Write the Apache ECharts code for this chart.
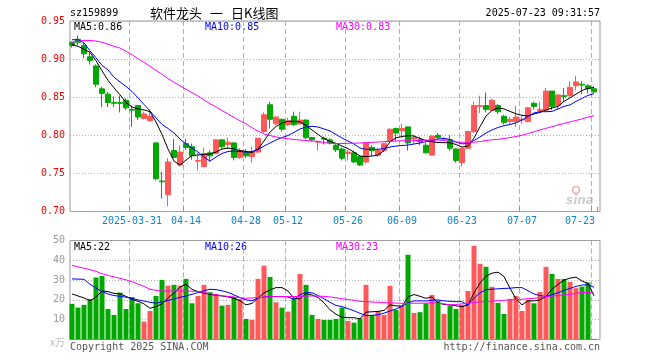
<!DOCTYPE html>
<html><head><meta charset="utf-8">
<script src="https://cdn.jsdelivr.net/npm/echarts@6/dist/echarts.min.js"></script>
<style>html,body{margin:0;padding:0;background:#fff}#c{width:660px;height:360px}</style>
</head><body><div id="c"></div>
<script>
const dates = [
'2025-03-17','2025-03-18','2025-03-19','2025-03-20','2025-03-21','2025-03-24','2025-03-25','2025-03-26','2025-03-27','2025-03-28','2025-03-31',
'2025-04-01','2025-04-02','2025-04-03','2025-04-07','2025-04-08','2025-04-09','2025-04-10','2025-04-11','2025-04-14','2025-04-15','2025-04-16','2025-04-17','2025-04-18','2025-04-21','2025-04-22','2025-04-23','2025-04-24','2025-04-25','2025-04-28','2025-04-29','2025-04-30',
'2025-05-06','2025-05-07','2025-05-08','2025-05-09','2025-05-12','2025-05-13','2025-05-14','2025-05-15','2025-05-16','2025-05-19','2025-05-20','2025-05-21','2025-05-22','2025-05-23','2025-05-26','2025-05-27','2025-05-28','2025-05-29','2025-05-30',
'2025-06-03','2025-06-04','2025-06-05','2025-06-06','2025-06-09','2025-06-10','2025-06-11','2025-06-12','2025-06-13','2025-06-16','2025-06-17','2025-06-18','2025-06-19','2025-06-20','2025-06-23','2025-06-24','2025-06-25','2025-06-26','2025-06-27','2025-06-30',
'2025-07-01','2025-07-02','2025-07-03','2025-07-04','2025-07-07','2025-07-08','2025-07-09','2025-07-10','2025-07-11','2025-07-14','2025-07-15','2025-07-16','2025-07-17','2025-07-18','2025-07-21','2025-07-22','2025-07-23'];

const tickDates  = ['2025-03-31','2025-04-14','2025-04-28','2025-05-12','2025-05-26','2025-06-09','2025-06-23','2025-07-07','2025-07-23'];
const tickLabels = ['2025-03-31','04-14','04-28','05-12','05-26','06-09','06-23','07-07','07-23'];

const opens = [0.922,0.926,0.918,0.903,0.891,0.861,0.854,0.843,0.843,0.846,
0.834,0.839,0.822,0.819,0.790,0.740,0.722,0.780,0.761,0.789,
0.785,0.766,0.759,0.777,0.776,0.794,0.788,0.790,0.771,0.778,
0.772,0.778,0.805,0.840,0.815,0.821,0.814,0.825,0.815,0.820,
0.797,0.791,0.796,0.794,0.787,0.782,0.776,0.777,0.772,0.765,
0.784,0.774,0.780,0.792,0.809,0.806,0.811,0.795,0.794,0.787,
0.774,0.800,0.795,0.794,0.782,0.764,0.783,0.805,0.838,0.839,
0.833,0.839,0.825,0.818,0.818,0.820,0.818,0.842,0.832,0.833,
0.858,0.839,0.852,0.852,0.865,0.867,0.865,0.861];
const closes = [0.918,0.922,0.907,0.898,0.867,0.855,0.843,0.842,0.842,0.836,
0.833,0.824,0.828,0.825,0.743,0.739,0.765,0.771,0.778,0.784,
0.773,0.767,0.776,0.773,0.794,0.785,0.791,0.771,0.780,0.773,
0.778,0.796,0.827,0.821,0.824,0.808,0.819,0.814,0.820,0.797,
0.794,0.792,0.795,0.790,0.781,0.770,0.778,0.765,0.761,0.790,
0.780,0.780,0.789,0.808,0.803,0.809,0.790,0.797,0.792,0.777,
0.799,0.797,0.796,0.783,0.767,0.783,0.805,0.839,0.839,0.834,
0.846,0.831,0.817,0.821,0.824,0.821,0.836,0.838,0.834,0.858,
0.838,0.853,0.851,0.863,0.870,0.866,0.861,0.857];
const lows = [0.915,0.918,0.901,0.893,0.863,0.837,0.837,0.837,0.830,0.833,
0.811,0.820,0.821,0.818,0.741,0.717,0.707,0.770,0.759,0.781,
0.768,0.754,0.758,0.765,0.775,0.782,0.782,0.767,0.769,0.770,
0.764,0.777,0.803,0.809,0.813,0.805,0.812,0.812,0.814,0.795,
0.792,0.780,0.788,0.788,0.778,0.767,0.767,0.764,0.760,0.763,
0.773,0.772,0.778,0.790,0.792,0.797,0.780,0.789,0.787,0.776,
0.773,0.795,0.793,0.780,0.764,0.759,0.782,0.803,0.829,0.830,
0.832,0.828,0.814,0.814,0.811,0.815,0.817,0.834,0.830,0.831,
0.833,0.833,0.844,0.850,0.859,0.854,0.855,0.855];
const highs = [0.923,0.931,0.921,0.909,0.893,0.864,0.857,0.851,0.852,0.849,
0.839,0.840,0.831,0.834,0.791,0.752,0.770,0.795,0.787,0.795,
0.789,0.777,0.784,0.780,0.795,0.795,0.797,0.791,0.783,0.782,
0.785,0.797,0.830,0.844,0.825,0.822,0.823,0.831,0.831,0.821,
0.798,0.793,0.798,0.796,0.790,0.784,0.781,0.780,0.774,0.791,
0.787,0.783,0.790,0.809,0.810,0.815,0.811,0.801,0.798,0.790,
0.800,0.803,0.798,0.800,0.783,0.784,0.806,0.844,0.852,0.856,
0.848,0.841,0.827,0.824,0.839,0.825,0.837,0.844,0.844,0.862,
0.858,0.854,0.862,0.871,0.878,0.871,0.867,0.864];

const ma5 = [0.9188,0.9168,0.9129,0.9089,0.8978,0.8846,0.8721,0.8622,0.8530,0.8432,
0.8372,0.8346,0.8333,0.8311,0.8175,0.8011,0.7820,0.7662,0.7609,0.7675,
0.7734,0.7741,0.7750,0.7754,0.7780,0.7820,0.7833,0.7820,0.7800,0.7787,
0.7774,0.7820,0.7925,0.8043,0.8116,0.8162,0.8184,0.8184,0.8175,0.8129,
0.8070,0.8011,0.7958,0.7918,0.7895,0.7859,0.7826,0.7780,0.7728,0.7721,
0.7728,0.7741,0.7800,0.7916,0.7967,0.7984,0.7995,0.7991,0.7958,0.7932,
0.7916,0.7905,0.7903,0.7903,0.7879,0.7846,0.7859,0.7964,0.8113,0.8254,
0.8326,0.8359,0.8346,0.8313,0.8283,0.8261,0.8254,0.8280,0.8300,0.8333,
0.8359,0.8379,0.8445,0.8491,0.8540,0.8589,0.8616,0.8629];
const ma10 = [0.9254,0.9254,0.9214,0.9109,0.9017,0.8918,0.8859,0.8761,0.8701,0.8642,
0.8576,0.8491,0.8405,0.8320,0.8228,0.8142,0.8089,0.8030,0.7951,0.7886,
0.7833,0.7780,0.7714,0.7662,0.7714,0.7761,0.7787,0.7793,0.7787,0.7780,
0.7787,0.7813,0.7859,0.7899,0.7938,0.7971,0.7997,0.8037,0.8083,0.8109,
0.8118,0.8109,0.8083,0.8057,0.8011,0.7964,0.7925,0.7886,0.7833,0.7816,
0.7816,0.7816,0.7826,0.7846,0.7859,0.7866,0.7872,0.7886,0.7899,0.7916,
0.7932,0.7951,0.7958,0.7945,0.7912,0.7888,0.7892,0.7932,0.7978,0.8030,
0.8070,0.8103,0.8126,0.8142,0.8162,0.8201,0.8247,0.8293,0.8310,0.8310,
0.8313,0.8346,0.8379,0.8399,0.8445,0.8484,0.8524,0.8546];
const ma30 = [0.9221,0.9234,0.9245,0.9245,0.9237,0.9221,0.9195,0.9168,0.9145,0.9103,
0.9057,0.9004,0.8958,0.8905,0.8853,0.8800,0.8745,0.8695,0.8649,0.8603,
0.8560,0.8515,0.8465,0.8415,0.8372,0.8325,0.8280,0.8235,0.8190,0.8150,
0.8100,0.8055,0.8017,0.7997,0.7978,0.7964,0.7954,0.7945,0.7938,0.7932,
0.7925,0.7918,0.7905,0.7895,0.7892,0.7892,0.7895,0.7896,0.7899,0.7903,
0.7908,0.7912,0.7916,0.7921,0.7925,0.7929,0.7929,0.7929,0.7932,0.7936,
0.7938,0.7938,0.7932,0.7918,0.7912,0.7909,0.7908,0.7909,0.7918,0.7932,
0.7941,0.7947,0.7958,0.7971,0.7984,0.8001,0.8024,0.8046,0.8070,0.8092,
0.8113,0.8136,0.8155,0.8175,0.8195,0.8215,0.8238,0.8258];

const volumes = [18.0,16.1,17.5,20.5,31.3,32.1,15.4,12.4,23.7,15.4,
21.4,18.3,9.0,14.4,22.0,30.1,27.2,27.6,27.2,30.6,
18.3,22.0,27.6,23.9,22.9,17.1,17.5,21.4,20.5,10.4,
9.9,30.6,37.3,31.6,18.8,16.1,14.1,20.8,33.1,27.6,
12.4,10.4,9.9,9.9,10.4,16.1,9.4,8.5,10.7,27.6,
12.4,14.4,12.4,27.1,14.9,17.0,42.8,13.4,13.8,18.3,
22.5,19.5,12.9,17.1,15.4,17.5,24.5,47.3,38.2,36.7,
26.6,18.5,12.9,20.5,22.0,14.4,20.0,18.3,24.0,36.7,
33.1,30.6,30.6,29.1,25.9,26.7,28.7,0.3];
const vma5 = [23.0,22.0,21.0,19.5,21.5,24.5,24.2,23.3,23.0,21.8,
20.3,19.3,18.0,15.8,16.6,18.0,21.0,23.5,26.5,27.9,
25.3,24.2,23.4,22.8,22.3,22.0,21.5,20.8,19.6,17.5,
18.2,21.0,23.5,25.0,26.2,26.2,24.5,20.8,20.5,23.2,
22.5,21.2,18.5,15.0,12.8,11.2,11.0,11.0,10.4,13.8,
14.0,14.2,14.7,17.5,17.0,16.8,21.5,22.7,21.8,20.8,
21.5,18.5,17.7,17.5,17.0,16.6,17.5,23.5,28.5,32.0,
33.5,34.0,31.8,25.9,20.5,17.5,19.5,19.5,20.0,21.7,
25.5,27.8,30.0,31.0,31.5,29.5,28.4,22.1];
const vma10 = [30.6,30.5,30.4,27.9,26.0,24.2,23.0,22.2,21.8,21.4,
20.8,20.0,19.4,18.8,18.3,19.0,19.7,20.5,21.3,22.0,
22.8,23.7,24.6,25.4,25.2,24.6,23.8,22.5,21.2,20.0,
19.6,21.0,21.4,21.7,21.7,21.7,21.5,20.3,22.6,23.8,
23.6,22.2,20.6,18.8,17.2,16.6,15.6,14.5,13.2,12.1,
12.2,12.5,13.3,14.4,15.4,16.8,18.5,19.5,19.5,19.5,
19.8,20.0,19.5,19.3,19.1,19.1,17.3,21.0,23.5,25.2,
25.4,25.6,25.8,25.9,26.2,26.2,24.6,23.0,22.2,21.7,
22.6,23.6,24.8,25.8,26.8,27.5,27.6,26.4];
const vma30 = [37.5,36.7,36.0,35.3,34.4,33.2,32.4,31.6,30.9,30.1,
29.2,28.0,26.8,25.4,24.8,24.5,24.5,24.5,24.5,24.5,
24.4,24.2,23.8,23.2,22.6,22.1,21.8,21.5,21.1,20.8,
21.0,21.2,21.4,21.6,21.7,21.7,21.7,21.7,21.8,21.9,
22.0,21.9,21.8,21.5,21.1,20.6,20.2,19.8,19.3,19.1,
18.9,18.8,18.6,18.5,18.4,18.3,18.3,18.3,18.3,18.4,
18.6,18.3,18.0,17.5,17.7,18.0,18.3,18.7,19.0,19.2,
19.4,19.6,19.8,20.0,20.2,20.3,20.6,20.8,21.2,21.6,
21.9,22.2,22.5,22.8,23.3,23.8,23.7,23.4];

const RED = '#ff5858', GREEN = '#00a800';
const MONO = '"DejaVu Sans Mono", monospace';
const CJK = '"Noto Sans CJK SC", sans-serif';
const tickIdx = new Set(tickDates.map(d => dates.indexOf(d)));
const labelOf = {}; tickDates.forEach((d, k) => labelOf[d] = tickLabels[k]);
const lastIdx = dates.length - 1;
const showTick = (i) => tickIdx.has(i);

const kData = dates.map((d, i) => [opens[i], closes[i], lows[i], highs[i]]);
const volData = volumes.map((v, i) => ({value: v, itemStyle: {color: closes[i] > opens[i] ? RED : GREEN}}));
const last = a => a[a.length - 1];

const chart = echarts.init(document.getElementById('c'), null, {renderer: 'canvas'});
const dashed = {show: true, showMaxLine: false, interval: showTick, lineStyle: {color: '#b0b0b0', type: [5, 3], width: 1}};
const dotted = {show: true, lineStyle: {color: '#b0b0b0', type: [1, 2], width: 1}};
const line = (name, data, color, xi, yi) => ({name, type: 'line', data, xAxisIndex: xi, yAxisIndex: yi, symbol: 'none', showSymbol: false,
  lineStyle: {color, width: 1}, itemStyle: {color}, z: 5, silent: true, animation: false});
const txt = (x, y, text, color, extra) => Object.assign({type: 'text', x, y, silent: true,
  style: Object.assign({text, fill: color, font: '10px ' + MONO, textVerticalAlign: 'middle'}, extra || {})});

chart.setOption({
  animation: false,
  backgroundColor: '#fff',
  grid: [
    {left: 69, top: 21, width: 528, height: 190.5},
    {left: 69, top: 240.5, width: 528, height: 99},
    {left: 70, top: 21, width: 530, height: 190.5, show: true, borderColor: '#999', borderWidth: 1, backgroundColor: 'transparent'},
    {left: 70, top: 240.5, width: 530, height: 99, show: true, borderColor: '#999', borderWidth: 1, backgroundColor: 'transparent'}
  ],
  xAxis: [
    {type: 'category', gridIndex: 0, data: dates, boundaryGap: true,
      axisLine: {show: false},
      axisTick: {show: true, inside: true, length: 5, interval: showTick, lineStyle: {color: '#999'}},
      splitLine: dashed,
      axisLabel: {show: true, interval: showTick, margin: 5, color: '#0a86cc', fontFamily: MONO, fontSize: 10,
        formatter: (v, i) => i === lastIdx ? '{r|' + labelOf[v] + '}' : (labelOf[v] || ''),
        rich: {r: {padding: [0, 28, 0, 0], color: '#0a86cc', fontFamily: MONO, fontSize: 10}}}},
    {type: 'category', gridIndex: 1, data: dates, boundaryGap: true,
      axisLine: {show: false}, axisTick: {show: false}, axisLabel: {show: false}, splitLine: dashed},
    {type: 'value', gridIndex: 2, min: 0, max: 1, show: false},
    {type: 'value', gridIndex: 3, min: 0, max: 1, show: false}
  ],
  yAxis: [
    {type: 'value', gridIndex: 0, min: 0.70, max: 0.95, show: false},
    {type: 'value', gridIndex: 1, min: 0, max: 50, show: false},
    {type: 'value', gridIndex: 2, min: 0.70, max: 0.95, interval: 0.05,
      axisLine: {show: false}, axisTick: {show: false}, splitLine: dotted,
      axisLabel: {color: '#ff0000', fontFamily: MONO, fontSize: 10, margin: 5, formatter: v => v.toFixed(2)}},
    {type: 'value', gridIndex: 3, min: 0, max: 50, interval: 10,
      axisLine: {show: false}, axisTick: {show: false}, splitLine: dotted,
      axisLabel: {color: '#999', fontFamily: MONO, fontSize: 10, margin: 5,
        formatter: v => v === 0 ? '{u|x万}' : String(v),
        rich: {u: {color: '#bbb', fontSize: 10, fontFamily: CJK, padding: [6, 0, 0, 0]}}}}
  ],
  series: [
    {name: 'K', type: 'candlestick', xAxisIndex: 0, yAxisIndex: 0, data: kData, barWidth: 5,
      itemStyle: {color: RED, color0: GREEN, borderColor: RED, borderColor0: GREEN, borderWidth: 1}, z: 3},
    line('MA5', ma5, '#000000', 0, 0),
    line('MA10', ma10, '#0000ff', 0, 0),
    line('MA30', ma30, '#ff00ff', 0, 0),
    {name: 'VOL', type: 'bar', xAxisIndex: 1, yAxisIndex: 1, data: volData, barWidth: 5, z: 3},
    line('VMA5', vma5, '#000000', 1, 1),
    line('VMA10', vma10, '#0000ff', 1, 1),
    line('VMA30', vma30, '#ff00ff', 1, 1)
  ],
  graphic: [
    txt(70, 13, 'sz159899', '#000'),
    txt(150, 13, '软件龙头', '#000', {font: '13px ' + CJK}),
    txt(210, 13, '一', '#000', {font: '13px ' + CJK}),
    txt(231, 13, '日K线图', '#000', {font: '13px ' + CJK}),
    txt(600, 13, '2025-07-23 09:31:57', '#000', {textAlign: 'right'}),
    txt(74, 27, 'MA5:' + last(ma5).toFixed(2), '#000'),
    txt(205, 27, 'MA10:' + last(ma10).toFixed(2), '#0000ff'),
    txt(336, 27, 'MA30:' + last(ma30).toFixed(2), '#ff00ff'),
    txt(74, 247, 'MA5:' + last(vma5).toFixed(0), '#000'),
    txt(205, 247, 'MA10:' + last(vma10).toFixed(0), '#0000ff'),
    txt(336, 247, 'MA30:' + last(vma30).toFixed(0), '#ff00ff'),
    txt(70, 347, 'Copyright 2025 SINA.COM', '#555'),
    txt(600, 347, 'http://finance.sina.com.cn', '#555', {textAlign: 'right'}),
    {type: 'circle', shape: {cx: 576, cy: 190, r: 3.5}, silent: true, style: {fill: 'none', stroke: '#f2a8a8', lineWidth: 1.5}},
    txt(566, 201, 'sina', '#cfcfcf', {font: 'italic bold 12px "DejaVu Sans", sans-serif'})
  ]
});
</script></body></html>
